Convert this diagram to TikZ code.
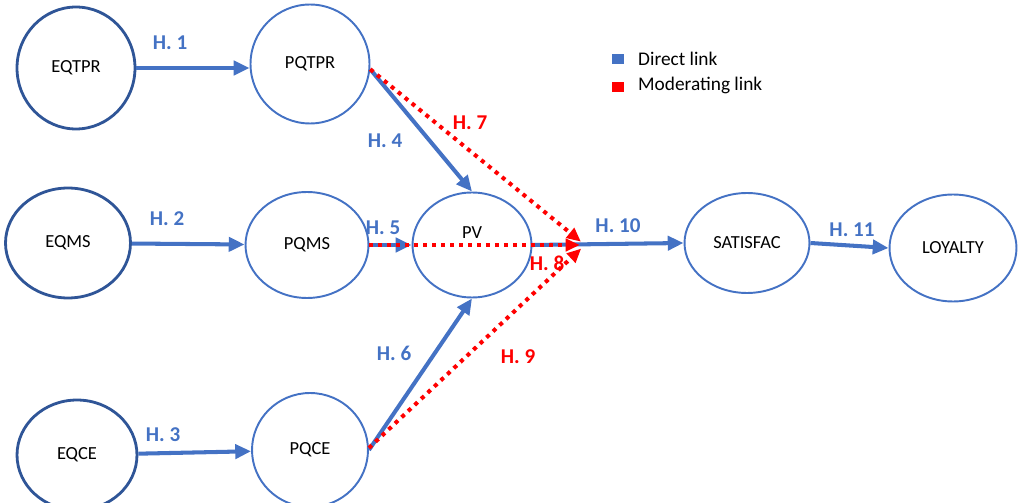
\documentclass[tikz,border=0pt]{standalone}
\usepackage{fontspec}
\setmainfont{Carlito}
\usetikzlibrary{arrows.meta,shapes.geometric}
\definecolor{linkblue}{HTML}{4472C4}
\definecolor{ringblue}{HTML}{2F5597}
\definecolor{modred}{HTML}{FF0000}

\begin{document}
\begin{tikzpicture}[x=0.02cm, y=-0.02cm, font=\fontsize{10.5}{12}\selectfont,
    construct/.style={ellipse, draw=linkblue, line width=1.1pt, inner sep=0pt},
    given/.style={construct, draw=ringblue, line width=1.6pt},
    direct/.style={draw=linkblue, line width=2.3pt, -{Triangle[length=9pt,width=8pt]}},
    moderating/.style={draw=modred, line width=2.3pt, dash pattern=on 2.3pt off 2.8pt,
        -{Triangle[length=8pt,width=7pt]}, shorten >=3pt},
    hyp/.style={text=linkblue, font=\fontsize{12}{14}\selectfont\bfseries},
    hypred/.style={hyp, text=modred}]
    \useasboundingbox (0,0) rectangle (1022,503);
    % constructs
    \node [given, minimum width=2.36cm, minimum height=2.44cm] (eqtpr) at (76,68) {EQTPR};
    \node [given, minimum width=2.5cm, minimum height=2.2cm] (eqms) at (68,243) {EQMS};
    \node [given, minimum width=2.4cm, minimum height=2.2cm] (eqce) at (77,455) {EQCE};
    \node [construct, minimum width=2.38cm, minimum height=2.38cm] (pqtpr) at (310,64) {PQTPR};
    \node [construct, minimum width=2.46cm, minimum height=2.12cm] (pqms) at (307,245) {PQMS};
    \node [construct, minimum width=2.32cm, minimum height=2.28cm] (pqce) at (310,450) {PQCE};
    \node [construct, minimum width=2.38cm, minimum height=2.1cm] (pv) at (472,245) {};
    \node (pvtext) at (472,233) {PV};
    \node [construct, minimum width=2.5cm, minimum height=2.0cm] (satisfac) at (747,243) {SATISFAC};
    \node [construct, minimum width=2.54cm, minimum height=2.14cm] (loyalty) at (953,248) {LOYALTY};
    \coordinate (meet) at (585,245);

    % direct links
    \draw [direct] (eqtpr.east) -- (pqtpr.west |- eqtpr.east);
    \draw [direct] (eqms) -- (pqms);
    \draw [direct] (eqce) -- (pqce);
    \draw [direct] (pqtpr.-5) -- (pv.north);
    \draw [direct] (pqms.east) -- (pv.west);
    \draw [direct] (pqce.east) -- (pv.south);
    \draw [direct] (pv.east) -- (satisfac.west);
    \draw [direct] (satisfac.east) -- (loyalty.west);

    % moderating links
    \draw [moderating] (pqtpr.-5) -- (meet);
    \draw [moderating] (pqms.east) -- (meet);
    \draw [moderating] (pqce.2) -- (meet);

    % hypotheses
    \node [hyp] at (170,43) {H. 1};
    \node [hyp] at (167,219) {H. 2};
    \node [hyp] at (163,435) {H. 3};
    \node [hyp] at (385,141) {H. 4};
    \node [hyp] at (383,228) {H. 5};
    \node [hyp] at (394,353) {H. 6};
    \node [hypred] at (470,123) {H. 7};
    \node [hypred] at (547,263) {H. 8};
    \node [hypred] at (518,357) {H. 9};
    \node [hyp] at (618,226) {H. 10};
    \node [hyp] at (852,230) {H. 11};

    % legend
    \node [fill=linkblue, minimum width=0.24cm, minimum height=0.2cm, inner sep=0pt] (keydirect) at (618,59) {};
    \node [fill=modred, minimum width=0.24cm, minimum height=0.2cm, inner sep=0pt] (keymod) at (618,87) {};
    \node [right, font=\fontsize{11}{13}\selectfont] at (632,59) {Direct link};
    \node [right, font=\fontsize{11}{13}\selectfont] at (632,85) {Moderating link};
\end{tikzpicture}
\end{document}
